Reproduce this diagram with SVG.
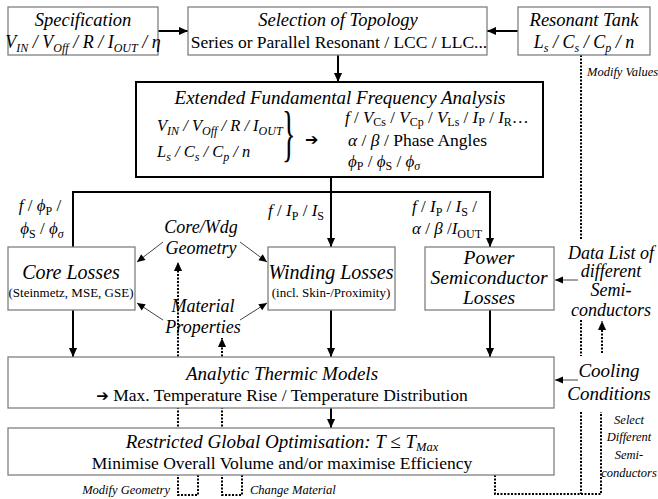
<svg xmlns="http://www.w3.org/2000/svg" width="658" height="499" viewBox="0 0 658 499">
<style>
text{font-family:"Liberation Serif","Times New Roman",serif;fill:#000}
.i{font-style:italic}
.s{font-size:12px}
.lbl{font-size:12.5px;font-style:italic}
.box{fill:#fff;stroke:#808080;stroke-width:1.3}
.main{fill:#fff;stroke:#000;stroke-width:2}
.c{fill:none;stroke:#000;stroke-width:2}
.thin{fill:none;stroke:#444;stroke-width:1}
.dot{fill:none;stroke:#000;stroke-width:2;stroke-dasharray:2 1.5}
.ar{font-family:"DejaVu Sans",sans-serif}
</style>
<defs>
<marker id="a" viewBox="0 0 10 10" refX="10" refY="5" markerWidth="10" markerHeight="9" markerUnits="userSpaceOnUse" orient="auto">
<path d="M0,0.5 L10,5 L0,9.5 z" fill="#000"/>
</marker>
<marker id="s" viewBox="0 0 10 10" refX="10" refY="5" markerWidth="9" markerHeight="8" markerUnits="userSpaceOnUse" orient="auto">
<path d="M0,0.5 L10,5 L0,9.5 z" fill="#000"/>
</marker>
</defs>

<g id="connectors">
<line class="c" x1="158" y1="31" x2="188" y2="31" marker-end="url(#a)"/>
<line class="c" x1="518" y1="31" x2="487" y2="31" marker-end="url(#a)"/>
<line class="c" x1="338" y1="55" x2="338" y2="82" marker-end="url(#a)"/>
<line class="c" x1="331" y1="177" x2="331" y2="247" marker-end="url(#a)"/>
<polyline class="c" points="73,247 73,192 490,192 490,247" marker-start="url(#a)" marker-end="url(#a)"/>
<line class="c" x1="73" y1="310" x2="73" y2="357" marker-end="url(#a)"/>
<line class="c" x1="331" y1="310" x2="331" y2="357" marker-end="url(#a)"/>
<line class="c" x1="490" y1="310" x2="490" y2="357" marker-end="url(#a)"/>
<line class="c" x1="331" y1="408" x2="331" y2="428" marker-end="url(#a)"/>
<line class="thin" x1="578" y1="280" x2="555" y2="280" marker-end="url(#s)"/>
<line class="thin" x1="578" y1="380" x2="555" y2="380" marker-end="url(#s)"/>
<line class="thin" x1="163" y1="242" x2="137" y2="262" marker-end="url(#s)"/>
<line class="thin" x1="240" y1="242" x2="267" y2="262" marker-end="url(#s)"/>
<line class="thin" x1="163" y1="320" x2="137" y2="303" marker-end="url(#s)"/>
<line class="thin" x1="240" y1="320" x2="267" y2="303" marker-end="url(#s)"/>
<path class="dot" d="M198,475 V495 H178 V262" marker-end="url(#a)"/>
<path class="dot" d="M242,475 V495 H222 V338" marker-end="url(#a)"/>
<path class="dot" d="M495,475 V494 H601 V412"/>
<line class="dot" x1="602" y1="353" x2="602" y2="321" marker-end="url(#a)"/>
<path class="dot" d="M581,55 V240 M581,320 V356 M581,412 V494"/>
</g>

<g id="spec">
<rect class="box" x="8" y="7" width="150" height="48"/>
<text class="i" font-size="18.5" x="83" y="26" text-anchor="middle">Specification</text>
<text class="i" font-size="18" x="83" y="48" text-anchor="middle">V<tspan class="s" dy="4">IN</tspan><tspan dy="-4"> / V</tspan><tspan class="s" dy="4">Off</tspan><tspan dy="-4"> / R / I</tspan><tspan class="s" dy="4">OUT</tspan><tspan dy="-4"> / η</tspan></text>
</g>

<g id="selection">
<rect class="box" x="188" y="7" width="299" height="48"/>
<text class="i" font-size="18.5" x="338" y="26" text-anchor="middle">Selection of Topology</text>
<text font-size="17.5" x="339" y="48" text-anchor="middle">Series or Parallel Resonant / LCC / LLC...</text>
</g>

<g id="tank">
<rect class="box" x="518" y="7" width="132" height="48"/>
<text class="i" font-size="18.5" x="584" y="26" text-anchor="middle">Resonant Tank</text>
<text class="i" font-size="18" x="584" y="48" text-anchor="middle">L<tspan class="s" dy="4">s</tspan><tspan dy="-4"> / C</tspan><tspan class="s" dy="4">s</tspan><tspan dy="-4"> / C</tspan><tspan class="s" dy="4">p</tspan><tspan dy="-4"> / n</tspan></text>
<text class="lbl" font-size="12" x="587" y="76">Modify Values</text>
</g>

<g id="effa">
<rect class="main" x="136" y="82" width="407" height="95"/>
<text class="i" font-size="19" x="340" y="104" text-anchor="middle">Extended Fundamental Frequency Analysis</text>
<text class="i" font-size="16.5" x="157" y="131">V<tspan class="s" dy="4">IN</tspan><tspan dy="-4"> / V</tspan><tspan class="s" dy="4">Off</tspan><tspan dy="-4"> / R / I</tspan><tspan class="s" dy="4">OUT</tspan></text>
<text class="i" font-size="16.5" x="157" y="157">L<tspan class="s" dy="4">s</tspan><tspan dy="-4"> / C</tspan><tspan class="s" dy="4">s</tspan><tspan dy="-4"> / C</tspan><tspan class="s" dy="4">p</tspan><tspan dy="-4"> / n</tspan></text>
<text font-size="62" transform="translate(282,154) scale(0.45,1)">}</text>
<text class="ar" font-size="16" x="305" y="145">➔</text>
<text font-size="17" x="345" y="123"><tspan class="i">f</tspan> / <tspan class="i">V</tspan><tspan class="s" dy="3">Cs</tspan><tspan dy="-3"> / </tspan><tspan class="i">V</tspan><tspan class="s" dy="3">Cp</tspan><tspan dy="-3"> / </tspan><tspan class="i">V</tspan><tspan class="s" dy="3">Ls</tspan><tspan dy="-3"> / </tspan><tspan class="i">I</tspan><tspan class="s" dy="3">P</tspan><tspan dy="-3"> / </tspan><tspan class="i">I</tspan><tspan class="s" dy="3">R</tspan><tspan dy="-3">…</tspan></text>
<text font-size="17.5" x="348" y="146"><tspan class="i">α</tspan> / <tspan class="i">β</tspan> / Phase Angles</text>
<text font-size="17" x="348" y="167"><tspan class="i">ϕ</tspan><tspan class="s" dy="3">P</tspan><tspan dy="-3"> / </tspan><tspan class="i">ϕ</tspan><tspan class="s" dy="3">S</tspan><tspan dy="-3"> / </tspan><tspan class="i">ϕ</tspan><tspan class="s i" dy="3">σ</tspan></text>
</g>

<g id="split-labels">
<text font-size="17" x="40" y="211" text-anchor="middle"><tspan class="i">f</tspan> / <tspan class="i">ϕ</tspan><tspan class="s" dy="4">P</tspan><tspan dy="-4"> /</tspan></text>
<text font-size="17" x="42" y="234" text-anchor="middle"><tspan class="i">ϕ</tspan><tspan class="s" dy="4">S</tspan><tspan dy="-4"> / </tspan><tspan class="i">ϕ</tspan><tspan class="s i" dy="4">σ</tspan></text>
<text font-size="17" x="324" y="216" text-anchor="end"><tspan class="i">f</tspan> / <tspan class="i">I</tspan><tspan class="s" dy="4">P</tspan><tspan dy="-4"> / </tspan><tspan class="i">I</tspan><tspan class="s" dy="4">S</tspan></text>
<text font-size="17" x="412" y="212"><tspan class="i">f</tspan> / <tspan class="i">I</tspan><tspan class="s" dy="4">P</tspan><tspan dy="-4"> / </tspan><tspan class="i">I</tspan><tspan class="s" dy="4">S</tspan><tspan dy="-4"> /</tspan></text>
<text font-size="17" x="412" y="234"><tspan class="i">α</tspan> / <tspan class="i">β</tspan> /<tspan class="i">I</tspan><tspan class="s" dy="4">OUT</tspan></text>
</g>

<g id="geometry">
<text class="i" font-size="18" x="201" y="233" text-anchor="middle">Core/Wdg</text>
<text class="i" font-size="18" x="201" y="254" text-anchor="middle">Geometry</text>
</g>
<g id="material">
<text class="i" font-size="18" x="203" y="312" text-anchor="middle">Material</text>
<text class="i" font-size="18" x="203" y="333" text-anchor="middle">Properties</text>
</g>

<g id="core">
<rect class="box" x="8" y="247" width="127" height="63"/>
<text class="i" font-size="20" x="71" y="279" text-anchor="middle">Core Losses</text>
<text font-size="13" x="71" y="297" text-anchor="middle">(Steinmetz, MSE, GSE)</text>
</g>

<g id="winding">
<rect class="box" x="268" y="247" width="127" height="63"/>
<text class="i" font-size="20" x="331" y="279" text-anchor="middle">Winding Losses</text>
<text font-size="13" x="331" y="297" text-anchor="middle">(incl. Skin-/Proximity)</text>
</g>

<g id="power">
<rect class="box" x="425" y="247" width="129" height="63"/>
<text class="i" font-size="19.5" x="489" y="264" text-anchor="middle">Power</text>
<text class="i" font-size="19.5" x="489" y="284" text-anchor="middle">Semiconductor</text>
<text class="i" font-size="19.5" x="489" y="304" text-anchor="middle">Losses</text>
</g>

<g id="datalist">
<text class="i" font-size="18" x="611" y="259" text-anchor="middle">Data List of</text>
<text class="i" font-size="18" x="611" y="277" text-anchor="middle">different</text>
<text class="i" font-size="18" x="611" y="296" text-anchor="middle">Semi-</text>
<text class="i" font-size="18" x="611" y="316" text-anchor="middle">conductors</text>
</g>

<g id="thermic">
<rect class="box" x="8" y="357" width="546" height="51"/>
<text class="i" font-size="19" x="282" y="380" text-anchor="middle">Analytic Thermic Models</text>
<text font-size="17.5" x="282" y="401" text-anchor="middle"><tspan class="ar" font-size="15">➔</tspan> Max. Temperature Rise / Temperature Distribution</text>
</g>

<g id="cooling">
<text class="i" font-size="19" x="609" y="377" text-anchor="middle">Cooling</text>
<text class="i" font-size="19" x="609" y="400" text-anchor="middle">Conditions</text>
</g>

<g id="optimisation">
<rect class="box" x="8" y="428" width="546" height="47"/>
<text class="i" font-size="19" x="282" y="448" text-anchor="middle">Restricted Global Optimisation: T ≤ T<tspan font-size="12.5" dy="3">Max</tspan></text>
<text font-size="17.5" x="282" y="469" text-anchor="middle">Minimise Overall Volume and/or maximise Efficiency</text>
</g>

<g id="select">
<text class="lbl" x="629" y="424" text-anchor="middle">Select</text>
<text class="lbl" x="629" y="441" text-anchor="middle">Different</text>
<text class="lbl" x="629" y="459" text-anchor="middle">Semi-</text>
<text class="lbl" x="629" y="477" text-anchor="middle">conductors</text>
</g>

<g id="loop-labels">
<text class="lbl" x="170" y="494" text-anchor="end">Modify Geometry</text>
<text class="lbl" x="250" y="494">Change Material</text>
</g>
</svg>
